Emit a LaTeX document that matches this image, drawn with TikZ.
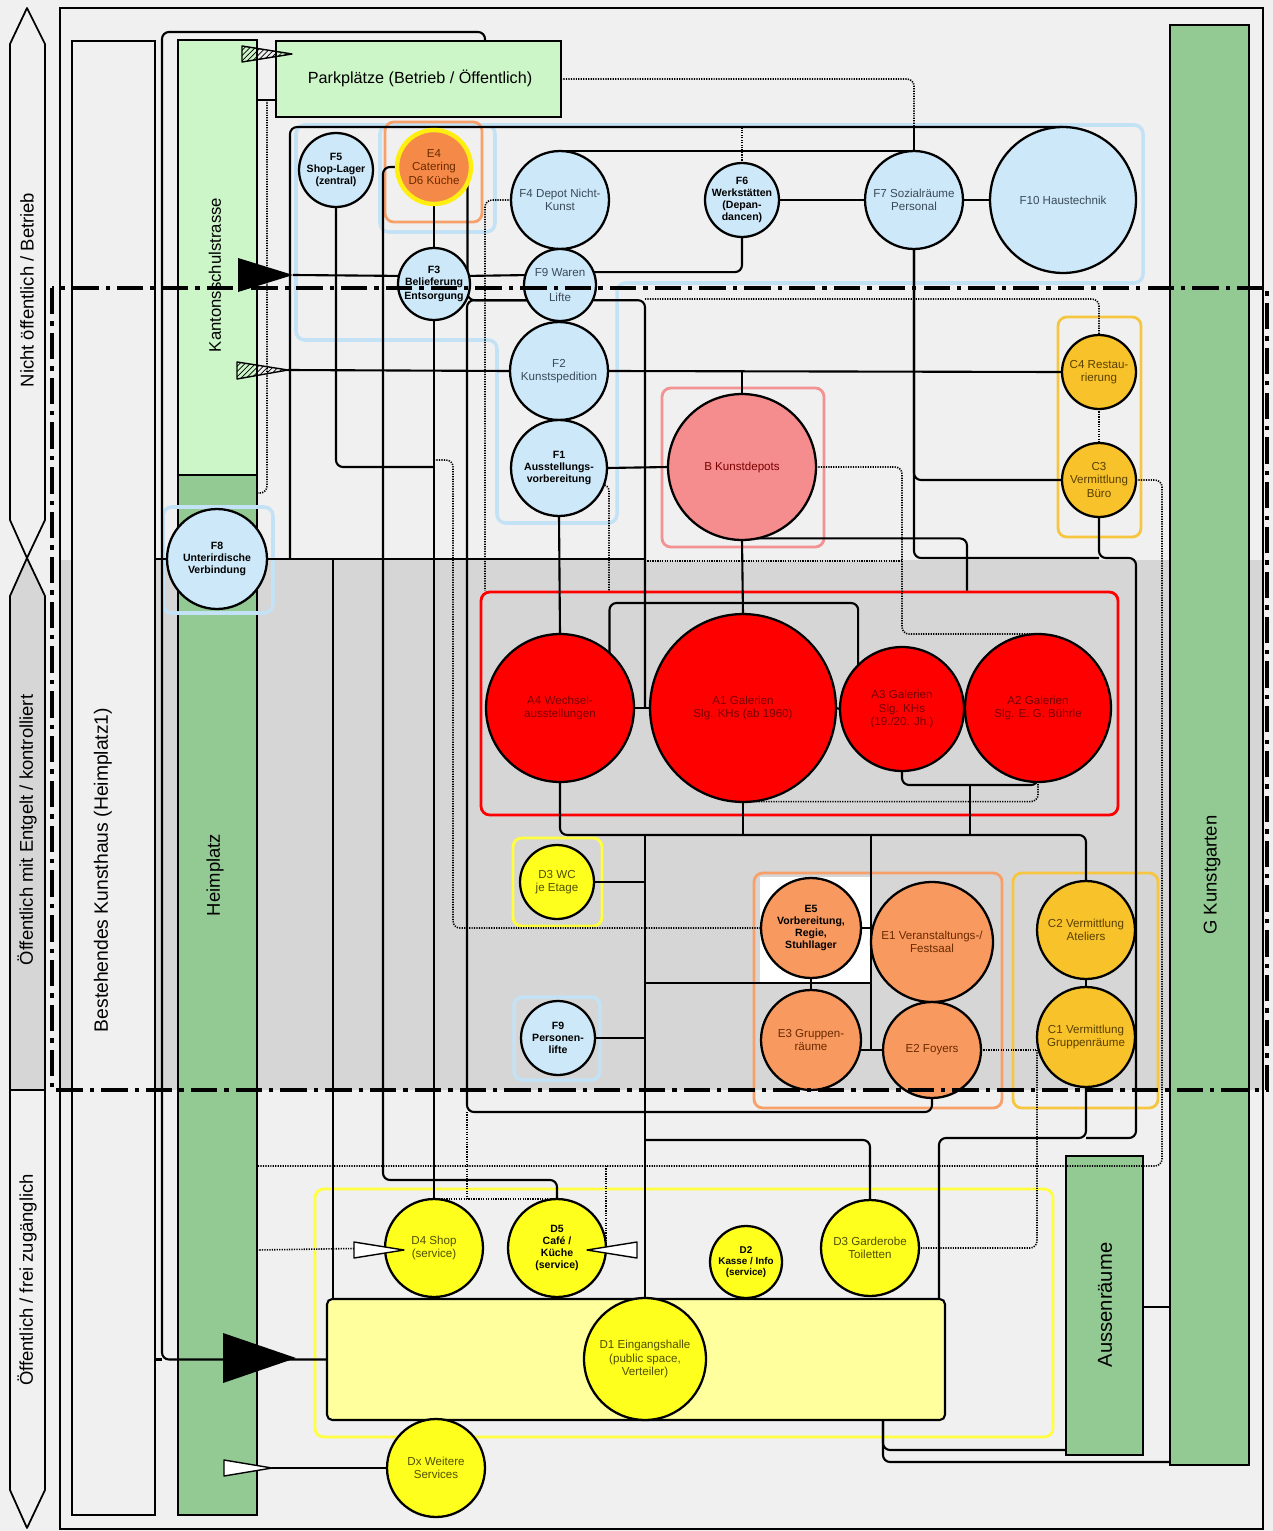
\documentclass[tikz,border=0pt]{standalone}
\usepackage{fontspec}
\setmainfont{Liberation Sans}
\usetikzlibrary{shapes.geometric,patterns}
\pgfdeclarelayer{bg}
\pgfdeclarelayer{wires}
\pgfdeclarelayer{front}
\pgfsetlayers{bg,wires,main,front}
\definecolor{pagebg}{HTML}{F0F0F0}
\definecolor{zonegrey}{HTML}{D6D6D6}
\definecolor{lgreen}{HTML}{CCF5C8}
\definecolor{dgreen}{HTML}{93C993}
\definecolor{fblue}{HTML}{CDE8F8}
\definecolor{fline}{HTML}{C4E2F6}
\definecolor{ftext}{HTML}{3A4A5A}
\definecolor{eorange}{HTML}{F8995F}
\definecolor{e4orange}{HTML}{F58A48}
\definecolor{ringyel}{HTML}{FFEE10}
\definecolor{camber}{HTML}{F8C22A}
\definecolor{dyellow}{HTML}{FFFF1E}
\definecolor{dlight}{HTML}{FFFF9E}
\definecolor{ared}{HTML}{FF0000}
\definecolor{atext}{HTML}{780000}
\definecolor{bpink}{HTML}{F58C8E}
\definecolor{bline}{HTML}{F29292}
\definecolor{oline}{HTML}{F7A06A}
\definecolor{cline}{HTML}{F7C640}
\definecolor{yline}{HTML}{FFFF40}
\definecolor{etext}{HTML}{6B2A00}
\definecolor{ctext}{HTML}{5A4000}
\definecolor{dtext}{HTML}{505000}
\tikzset{
  room/.style={ellipse, draw=black, line width=1.3pt, inner sep=0pt, outer sep=0pt},
  rad/.style 2 args={minimum width=#1*0.04cm, minimum height=#2*0.04cm},
  span/.style 2 args={minimum width=#1*0.02cm, minimum height=#2*0.02cm},
  lbl/.style={align=center, inner sep=0pt, font=\fontsize{6.6}{7.6}\selectfont},
  blbl/.style={align=center, inner sep=0pt, font=\fontsize{6}{6.9}\selectfont\bfseries},
  fz/.style={room, fill=fblue},
  az/.style={room, fill=ared},
  ez/.style={room, fill=eorange},
  cz/.style={room, fill=camber},
  dz/.style={room, fill=dyellow},
  bar/.style={rectangle, draw=black, line width=1.2pt, inner sep=0pt, outer sep=0pt},
  zonebox/.style={draw=#1, line width=1.6pt, rounded corners=5pt},
  link/.style={draw=black, line width=1.2pt, rounded corners=4pt},
  dots/.style={draw=black, line width=0.9pt, dash pattern=on 0.7pt off 0.7pt, rounded corners=4pt},
  zoneline/.style={draw=black, line width=2.2pt, dash pattern=on 15pt off 4pt on 2.5pt off 4pt},
  band/.style={draw=black, line width=1pt, line join=round},
  side/.style={rotate=90, font=\fontsize{10.5}{12}\selectfont},
  gate/.style={draw=black, line width=0.8pt, line join=round}
}
\begin{document}
\begin{tikzpicture}[x=0.02cm, y=-0.02cm]
%Backgrounds, bars and zones
\begin{pgfonlayer}{bg}
  \fill[pagebg] (0,0) rectangle (1273,1531);
  \fill[zonegrey] (60,560) rectangle (1263,1090);
  \draw[line width=0.8pt] (60,8) rectangle (1263,1529);
  \draw[band, fill=pagebg] (27,8) -- (45,44) -- (45,520) -- (27,558) -- (10,520) -- (10,44) -- cycle;
  \draw[band, fill=zonegrey] (27,558) -- (45,596) -- (45,1090) -- (10,1090) -- (10,596) -- cycle;
  \draw[band, fill=pagebg] (10,1090) -- (45,1090) -- (45,1490) -- (27,1528) -- (10,1490) -- cycle;
  \node[side] at (27,290) {Nicht öffentlich / Betrieb};
  \node[side] at (27,830) {Öffentlich mit Entgelt / kontrolliert};
  \node[side] at (27,1280) {Öffentlich / frei zugänglich};
  \node[bar, fill=pagebg, span={83}{1474}] (Best) at (113.5,778) {};
  \node[bar, fill=lgreen, span={79}{435}] (Kanton) at (217.5,257.5) {};
  \node[bar, fill=dgreen, span={79}{1040}] (Heim) at (217.5,995) {};
  \node[bar, fill=lgreen, span={285}{76}] (Park) at (418.5,79) {};
  \node[bar, fill=dgreen, line width=0.8pt, span={79}{1440}] (Garten) at (1209.5,745) {};
  \node[bar, fill=dgreen, span={77}{299}] (Aussen) at (1104.5,1305.5) {};
  \node[side, font=\fontsize{11}{13}\selectfont] at (103,870) {Bestehendes Kunsthaus (Heimplatz1)};
  \node[side, font=\fontsize{9.5}{11}\selectfont] at (215,275) {Kantonsschulstrasse};
  \node[side, font=\fontsize{10.5}{12}\selectfont] at (215,875) {Heimplatz};
  \node[side, font=\fontsize{10.5}{12}\selectfont] at (1212,875) {G Kunstgarten};
  \node[side, font=\fontsize{11.5}{13}\selectfont] at (1105,1305) {Aussenräume};
  \node[font=\fontsize{9.2}{11}\selectfont] at (420,78) {Parkplätze (Betrieb / Öffentlich)};
  \fill[white] (760,877) rectangle (870,983);
  \draw[zonebox=fline, line width=2pt] (296,125) -- (1143,125) -- (1143,283) -- (617,283) -- (617,523) -- (497,523) -- (497,340) -- (296,340) -- cycle;
  \draw[zonebox=fline, line width=2pt] (380,125) rectangle (495,232);
  \draw[zonebox=oline] (385,122) rectangle (482,222);
  \draw[zonebox=fline, line width=2pt] (163,507) rectangle (273,613);
  \draw[zonebox=bline] (662,388) rectangle (824,547);
  \draw[zonebox=cline] (1058,317) rectangle (1141,537);
  \node[zonebox=ared, span={637}{223}] (Agrp) at (799.5,703.5) {};
  \draw[zonebox=yline] (513,838) rectangle (602,926);
  \draw[zonebox=fline, line width=2pt] (514,997) rectangle (600,1080);
  \draw[zonebox=oline] (754,873) rectangle (1002,1108);
  \draw[zonebox=cline] (1013,873) rectangle (1158,1108);
  \draw[zonebox=yline] (315,1189) rectangle (1053,1437);
\end{pgfonlayer}

%Rooms
\node[fz, rad={37}{37}, label={[blbl]center:{F5\\Shop-Lager\\(zentral)}}] (F5) at (336,170) {};
\node[room, fill=e4orange, draw=ringyel, line width=2.5pt, rad={37}{37}, label={[lbl,text=etext]center:{E4\\Catering\\D6 Küche}}] (E4) at (434,167) {};
\node[fz, rad={49}{49}, label={[lbl,text=ftext]center:{F4 Depot Nicht-\\Kunst}}] (F4) at (560,200) {};
\node[fz, rad={36}{36}, label={[lbl,text=ftext]center:{F9 Waren\\[7pt]Lifte}}] (F9) at (560,285) {};
\node[fz, rad={36}{36}, label={[blbl]center:{F3\\Belieferung\\[1pt]Entsorgung}}] (F3) at (434,284) {};
\node[fz, rad={49}{49}, label={[lbl,text=ftext]center:{F2\\Kunstspedition}}] (F2) at (559,371) {};
\node[fz, rad={48}{48}, label={[blbl]center:{F1\\Ausstellungs-\\vorbereitung}}] (F1) at (559,468) {};
\node[fz, rad={37}{37}, label={[blbl]center:{F6\\Werkstätten\\(Depan-\\dancen)}}] (F6) at (742,200) {};
\node[fz, rad={49}{49}, label={[lbl,text=ftext]center:{F7 Sozialräume\\Personal}}] (F7) at (914,200) {};
\node[fz, rad={73}{73}, label={[lbl,text=ftext]center:{F10 Haustechnik}}] (F10) at (1063,200) {};
\node[fz, rad={50}{50}, label={[blbl]center:{F8\\Unterirdische\\Verbindung}}] (F8) at (217,559) {};
\node[room, fill=bpink, rad={74}{73}, label={[lbl,text=atext]center:{B Kunstdepots}}] (B) at (742,467) {};
\node[cz, rad={37}{37}, label={[lbl,text=ctext]center:{C4 Restau-\\rierung}}] (C4) at (1099,372) {};
\node[cz, rad={37}{37}, label={[lbl,text=ctext]center:{C3\\Vermittlung\\Büro}}] (C3) at (1099,480) {};
\node[az, rad={74}{74}, label={[lbl,text=atext]center:{A4 Wechsel-\\ausstellungen}}] (A4) at (560,708) {};
\node[az, rad={93}{94}, label={[lbl,text=atext]center:{A1 Galerien\\Slg. KHs (ab 1960)}}] (A1) at (743,708) {};
\node[az, rad={62}{62}, label={[lbl,text=atext]center:{A3 Galerien\\Slg. KHs\\(19./20. Jh.)}}] (A3) at (902,709) {};
\node[az, rad={73}{74}, label={[lbl,text=atext]center:{A2 Galerien\\Slg. E. G. Bührle}}] (A2) at (1038,708) {};
\node[dz, rad={37}{37}, label={[lbl,text=dtext]center:{D3 WC\\je Etage}}] (D3WC) at (557,882) {};
\node[fz, rad={37}{37}, label={[blbl]center:{F9\\Personen-\\lifte}}] (F9P) at (558,1038) {};
\node[ez, rad={50}{50}, label={[blbl]center:{E5\\Vorbereitung,\\Regie,\\Stuhllager}}] (E5) at (811,928) {};
\node[ez, rad={61}{60}, label={[lbl,text=etext]center:{E1 Veranstaltungs-/\\Festsaal}}] (E1) at (932,942) {};
\node[ez, rad={50}{50}, label={[lbl,text=etext]center:{E3 Gruppen-\\räume}}] (E3) at (811,1040) {};
\node[ez, rad={49}{48}, label={[lbl,text=etext]center:{E2 Foyers}}] (E2) at (932,1050) {};
\node[cz, rad={49}{49}, label={[lbl,text=ctext]center:{C2 Vermittlung\\Ateliers}}] (C2) at (1086,930) {};
\node[cz, rad={49}{50}, label={[lbl,text=ctext]center:{C1 Vermittlung\\Gruppenräume}}] (C1) at (1086,1037) {};
\node[bar, fill=dlight, rounded corners=3pt, span={618}{121}] (D1bar) at (636,1359.5) {};
\node[dz, rad={49}{49}, label={[lbl,text=dtext]center:{D4 Shop\\(service)}}] (D4) at (434,1248) {};
\node[dz, rad={49}{49}, label={[blbl]center:{D5\\Café /\\Küche\\(service)}}] (D5) at (557,1248) {};
\node[dz, rad={36}{36}, label={[blbl, font=\fontsize{5.6}{6.5}\selectfont\bfseries]center:{D2\\Kasse / Info\\(service)}}] (D2) at (746,1262) {};
\node[dz, rad={49}{48}, label={[lbl,text=dtext]center:{D3 Garderobe\\Toiletten}}] (D3G) at (870,1248) {};
\node[dz, rad={61}{61}, label={[lbl,text=dtext]center:{D1 Eingangshalle\\(public space,\\Verteiler)}}] (D1) at (645,1359) {};
\node[dz, rad={49}{49}, label={[lbl,text=dtext]center:{Dx Weitere\\Services}}] (Dx) at (436,1468) {};

\coordinate (j45) at (645,708);
\coordinate (in1) at (293,275);
\coordinate (in2) at (288,370);
\coordinate (dxtip) at (272,1468);
\coordinate (jA32) at (970,785);

%Connections
\begin{pgfonlayer}{wires}
  \draw[link] (Park.north -| 485,0) |- (162,32) |- (D1bar.west);
  \draw[link] (Best.east |- D1bar.west) -- (162,0 |- D1bar.west);
  \draw[link] (Kanton.east |- 0,100) -- (Park.west |- 0,100);
  \draw[link] (290,558) |- (F10.north);
  \draw[link] (F7.north) -- (F7.north |- F10.north);
  \draw[link] (F4.north) -- (F7.north);
  \draw[link] (F6.east) -- (F7.west);
  \draw[link] (F7.east) -- (F10.west);
  \draw[link] (F9.21) -| (F6.south);
  \draw[link] (in1) -- (F3.167);
  \draw[link] (F3.13) -- (F9.164);
  \draw[link] (F5.south) |- (F3.south |- 0,467);
  \draw[link] (F3.south) -- (D4.north);
  \draw[link] (E4.south) -- (F3.north);
  \draw[link] (E4.west) -| (383,1180) -| (D5.north);
  \draw[link] (E4.-25) |- (F9.205);
  \draw[link] (F9.205) -| (467,1112) -| (E2.south);
  \draw[link] (F9.-25) -| (j45);
  \draw[link] (A4.east) -- (A1.west);
  \draw[link] (in2) -- (F2.west);
  \draw[link] (F2.east) -- (C4.west);
  \draw[link] (B.north) -- (B.north |- F2.east);
  \draw[link] (F1.east) -- (B.west);
  \draw[link] (Best.east |- F8.west) -- (F8.west);
  \draw[link] (F8.east) -- (F8.east -| j45);
  \draw[link] (F8.east -| 333,0) -- (D1bar.north -| 333,0);
  \draw[link] (F1.south) -- (A4.north);
  \draw[link] (B.south) -- (A1.north);
  \draw[link] (A4.48) |- (A1.north |- 0,603) -| (A3.135);
  \draw[link] (B.-78) -| (Agrp.north -| 967,0);
  \draw[link] (A1.east) -- (A3.west);
  \draw[link] (A3.south) -- ++(0,14) -| (A2.south);
  \draw[link] (jA32) -- (jA32 |- 0,835);
  \draw[link] (A4.south) -- ++(0,53) -| (C2.north);
  \draw[link] (A1.south) -- (A1.south |- 0,835);
  \draw[link] (D1.north |- 0,835) -- (D1.north);
  \draw[link] (D3WC.east) -- (D3WC.east -| D1.north);
  \draw[link] (F9P.east) -- (F9P.east -| D1.north);
  \draw[link] (871,835) -- (871,1050);
  \draw[link] (D1.north |- 0,983) -- (871,983);
  \draw[link] (E5.east) -- (E5.east -| E1.west);
  \draw[link] (E2.west) -- (E2.west -| E3.east);
  \draw[link] (E5.south) -- (E3.north);
  \draw[link] (C2.south) -- (C1.north);
  \draw[link] (C1.south) -- ++(0,51) -| (D1bar.north -| 939,0);
  \draw[link] (C3.south) |- (1136,558) |- (C1.south |- 0,1138);
  \draw[link] (F7.south) |- (C3.west);
  \draw[link] (F7.south) |- (C3.south |- 0,558);
  \draw[link] (D3G.north) |- (D1.north |- 0,1140);
  \draw[link] (Dx.west) -- (dxtip);
  \draw[link] (Aussen.east |- 0,1307) -- (Garten.west |- 0,1307);
  \draw[link] (D1bar.south -| 883,0) |- (Aussen.west |- 0,1450);
  \draw[link] (D1bar.south -| 883,0) |- (Garten.west |- 0,1462);
  %dotted links
  \draw[dots] (Park.east) -| (F7.north |- F10.north);
  \draw[dots] (F6.north) -- (F6.north |- F10.north);
  \draw[dots] (F4.west) -| (Agrp.north -| 485,0);
  \draw[dots] (F3.south |- 0,460) -| (453,928) -- (E5.west);
  \draw[dots] (F1.-20) -| (Agrp.north -| 609,0);
  \draw[dots] (B.east) -| (A3.north |- A2.north) -- (A2.north);
  \draw[dots] (j45 |- 0,561) -- (A3.north |- 0,561);
  \draw[dots] (A1.-85) -| (A2.south);
  \draw[dots] (j45 |- 0,299) -| (C4.north);
  \draw[dots] (C4.south) -- (C3.north);
  \draw[dots] (C3.east) -| (1162,1166) -- (Heim.east |- 0,1166);
  \draw[dots] (D5.east |- 0,1166) -- (D5.east);
  \draw[dots] (E2.east) -- (E2.east -| C1.west);
  \draw[dots] (E2.east -| C1.west) |- (D3G.east);
  \draw[dots] (Heim.east |- 0,1250) -- (D4.west);
  \draw[dots] (467,1112) -- (467,1200);
  \draw[dots] (D4.north) -- (D5.north);
  \draw[dots] (267,100) |- (Heim.east |- 0,493);
\end{pgfonlayer}

%Entrances and zone border
\begin{pgfonlayer}{front}
  \draw[gate, pattern=north east lines] (242,46) -- (242,62) -- (292,54) -- cycle;
  \fill[black] (238,258) -- (238,292) -- (in1) -- cycle;
  \draw[gate, pattern=north east lines] (237,362) -- (237,379) -- (in2) -- cycle;
  \fill[black] (223,1333) -- (223,1383) -- (296,1358) -- cycle;
  \draw[gate, fill=white] (354,1242) -- (354,1258) -- (404,1250) -- cycle;
  \draw[gate, fill=white] (637,1242) -- (637,1258) -- (587,1250) -- cycle;
  \draw[gate, fill=white] (224,1460) -- (224,1476) -- (dxtip) -- cycle;
  \draw[zoneline] (52,288) rectangle (1267,1090);
\end{pgfonlayer}
\end{tikzpicture}
\end{document}
